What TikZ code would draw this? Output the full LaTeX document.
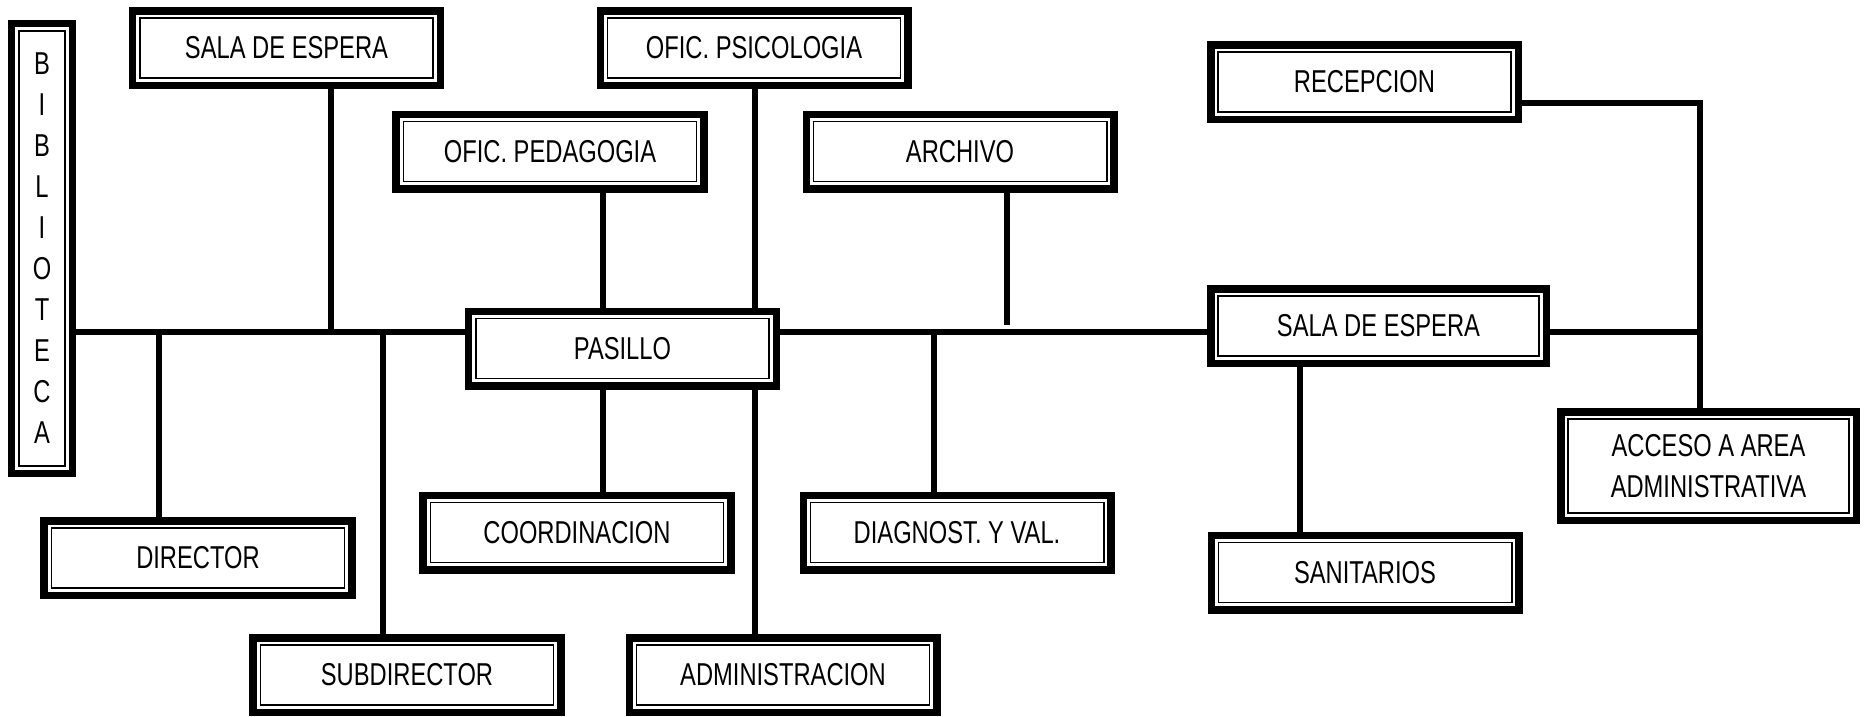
\documentclass[tikz,border=0pt]{standalone}
\usepackage{fontspec}
\setmainfont{Liberation Sans}[FakeStretch=0.75]
\usetikzlibrary{calc}

\begin{document}
\begin{tikzpicture}[x=0.015cm,y=-0.015cm]
	\tikzset{
		room/.style={draw,line width=3.2pt,inner sep=0pt,align=center,
			minimum width=4.6125cm,minimum height=1.1175cm,
			font=\fontsize{13.5}{17.5}\selectfont,
			path picture={\draw[line width=0.75pt]
				([shift={(3.05pt,3.05pt)}]path picture bounding box.south west) rectangle
				([shift={(-3.05pt,-3.05pt)}]path picture bounding box.north east);}},
		wall/.style={line width=2.6pt}
	}
	\useasboundingbox (0,0) rectangle (1865,716);

	\node[room,minimum width=0.9075cm,minimum height=6.7425cm] (bib) at (42,248.5) {B\\I\\B\\L\\I\\O\\T\\E\\C\\A};
	\node[room] (salaA) at (286.5,48) {SALA DE ESPERA};
	\node[room] (psi) at (754,48) {OFIC. PSICOLOGIA};
	\node[room] (ped) at (550,151.5) {OFIC. PEDAGOGIA};
	\node[room] (arc) at (960,151.5) {ARCHIVO};
	\node[room] (rec) at (1364.5,82) {RECEPCION};
	\node[room] (pas) at (622.5,348.5) {PASILLO};
	\node[room,minimum width=5.0325cm] (salaB) at (1378.5,326) {SALA DE ESPERA};
	\node[room,minimum width=4.4325cm,minimum height=1.6275cm] (acc) at (1708.5,466) {ACCESO A AREA\\ADMINISTRATIVA};
	\node[room] (dir) at (198,558) {DIRECTOR};
	\node[room] (coo) at (577,532.5) {COORDINACION};
	\node[room] (dia) at (957,532.5) {DIAGNOST. Y VAL.};
	\node[room] (san) at (1365,572.5) {SANITARIOS};
	\node[room] (sub) at (407,675) {SUBDIRECTOR};
	\node[room] (adm) at (783,675) {ADMINISTRACION};

	\coordinate (hall) at (0,332);
	\coordinate (jSala) at (331,332);
	\coordinate (jDir) at (159,332);
	\coordinate (jSub) at (383,332);
	\coordinate (jDia) at (934,332);
	\coordinate (jArc) at (1007,325);
	\coordinate (jAcc) at (1700,332);
	\coordinate (jRec) at (1700,103);
	\coordinate (colA) at (603,0);
	\coordinate (colB) at (755,0);
	\coordinate (colS) at (1300,0);

	\draw[wall] (bib.east |- hall) -- (pas.west |- hall);
	\draw[wall] (pas.east |- hall) -- (salaB.west |- hall);
	\draw[wall] (salaB.east |- hall) -- (jAcc);
	\draw[wall] (rec.east |- jRec) -- (jRec) -- (acc.north -| jRec);
	\draw[wall] (salaA.south -| jSala) -- (jSala);
	\draw[wall] (jDir) -- (dir.north -| jDir);
	\draw[wall] (jSub) -- (sub.north -| jSub);
	\draw[wall] (ped.south -| colA) -- (pas.north -| colA);
	\draw[wall] (pas.south -| colA) -- (coo.north -| colA);
	\draw[wall] (psi.south -| colB) -- (pas.north -| colB);
	\draw[wall] (pas.south -| colB) -- (adm.north -| colB);
	\draw[wall] (arc.south -| jArc) -- (jArc);
	\draw[wall] (jDia) -- (dia.north -| jDia);
	\draw[wall] (salaB.south -| colS) -- (san.north -| colS);
\end{tikzpicture}
\end{document}
